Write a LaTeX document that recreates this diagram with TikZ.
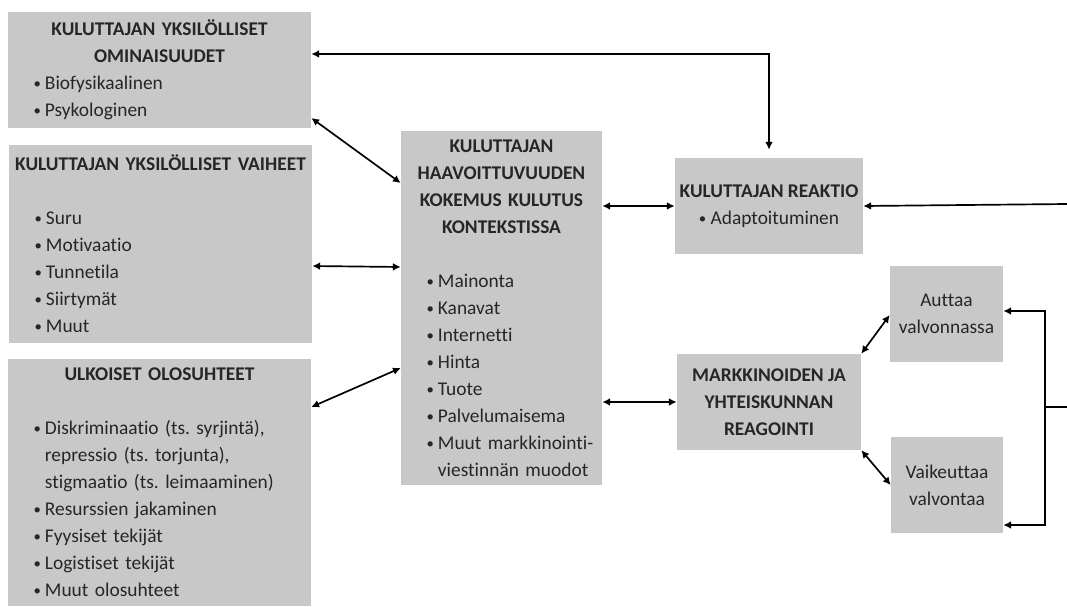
\documentclass[tikz,border=0pt]{standalone}
\usepackage{fontspec}
\setmainfont{Carlito}[Ligatures=NoCommon]
\usepackage{tikz}
\usetikzlibrary{arrows.meta}
\definecolor{boxgray}{RGB}{200,200,200}
\definecolor{txtgray}{RGB}{38,38,38}
\newcommand{\hd}[1]{{\centering\bfseries #1\par}}
\newcommand{\bdot}{\raisebox{0.6pt}{\fontsize{10.5}{10.5}\selectfont\textbullet}}
\newcommand{\bl}{\hspace*{16.3pt}\makebox[8pt][l]{\bdot}}
\newcommand{\bc}{\hspace*{24.3pt}}

\begin{document}
\begin{tikzpicture}[x=0.025cm, y=-0.025cm, >={Latex[length=5.5pt,width=5.5pt]},
    box/.style={fill=boxgray, text=txtgray, inner xsep=2pt, inner ysep=0pt,
        font=\fontsize{13.8}{19.2}\selectfont},
    wide/.style={box, align=left},
    link/.style={<->, line width=1.2pt}]

    \useasboundingbox (0,0) rectangle (1067,606);

    \node[wide, minimum width=7.575cm, minimum height=2.9cm, text width=7.434cm] (A) at (159.5,70)
        {\hd{KULUTTAJAN YKSILÖLLISET\\ OMINAISUUDET}\bl Biofysikaalinen\\ \bl Psykologinen};
    \node[wide, minimum width=7.575cm, minimum height=4.95cm, text width=7.434cm] (B) at (160.5,244)
        {\hd{KULUTTAJAN YKSILÖLLISET VAIHEET}\vspace{\baselineskip}\bl Suru\\ \bl Motivaatio\\ \bl Tunnetila\\ \bl Siirtymät\\ \bl Muut};
    \node[wide, minimum width=7.575cm, minimum height=6.175cm, text width=7.434cm] (C) at (159.5,482.5)
        {\hd{ULKOISET OLOSUHTEET}\vspace{\baselineskip}\bl Diskriminaatio (ts.\ syrjintä),\\ \bc repressio (ts.\ torjunta),\\ \bc stigmaatio (ts.\ leimaaminen)\\ \bl Resurssien jakaminen\\ \bl Fyysiset tekijät\\ \bl Logistiset tekijät\\ \bl Muut olosuhteet};
    \node[wide, minimum width=5.025cm, minimum height=8.825cm, text width=4.884cm] (D) at (501.5,308)
        {\hd{KULUTTAJAN\\ HAAVOITTUVUUDEN\\ KOKEMUS KULUTUS\\ KONTEKSTISSA}\vspace{\baselineskip}\bl Mainonta\\ \bl Kanavat\\ \bl Internetti\\ \bl Hinta\\ \bl Tuote\\ \bl Palvelumaisema\\ \bl Muut markkinointi-\\ \bc viestinnän muodot};
    \node[box, align=center, minimum width=4.7cm, minimum height=2.4cm] (E) at (769,206)
        {\textbf{KULUTTAJAN REAKTIO}\\ \bdot\ Adaptoituminen};
    \node[box, align=center, minimum width=4.6cm, minimum height=2.4cm] (F) at (769,402)
        {\textbf{MARKKINOIDEN JA}\\ \textbf{YHTEISKUNNAN}\\ \textbf{REAGOINTI}};
    \node[box, align=center, minimum width=2.825cm, minimum height=2.4cm] (G) at (946.5,314) {Auttaa\\ valvonnassa};
    \node[box, align=center, minimum width=2.8cm, minimum height=2.4cm] (H) at (947,485) {Vaikeuttaa\\ valvontaa};

    \coordinate (R1) at (1067,204);
    \coordinate (R2) at (1067,407);
    \coordinate (J) at (1045,407);

    \draw[link] (A.east |- 0,118) -- (D.west |- 0,183);
    \draw[link] (B.east |- 0,266) -- (D.west |- 0,267);
    \draw[link] (C.east |- 0,407) -- (D.west |- 0,368);
    \draw[link] (A.east |- 0,54) -| ([yshift=5.7pt]E.north);
    \draw[link] (D.east |- E.west) -- (E.west);
    \draw[link] (D.east |- F.west) -- (F.west);
    \draw[link] (F.north east) -- (G.west |- 0,315);
    \draw[link] (F.south east) -- (H.west |- 0,485);
    \draw[->, line width=1.2pt] (R1) -- (E.east);
    \draw[line width=1.2pt] (R2) -- (J);
    \draw[link] (G.east |- 0,311) -| (J) |- (H.east |- 0,525);

\end{tikzpicture}
\end{document}
